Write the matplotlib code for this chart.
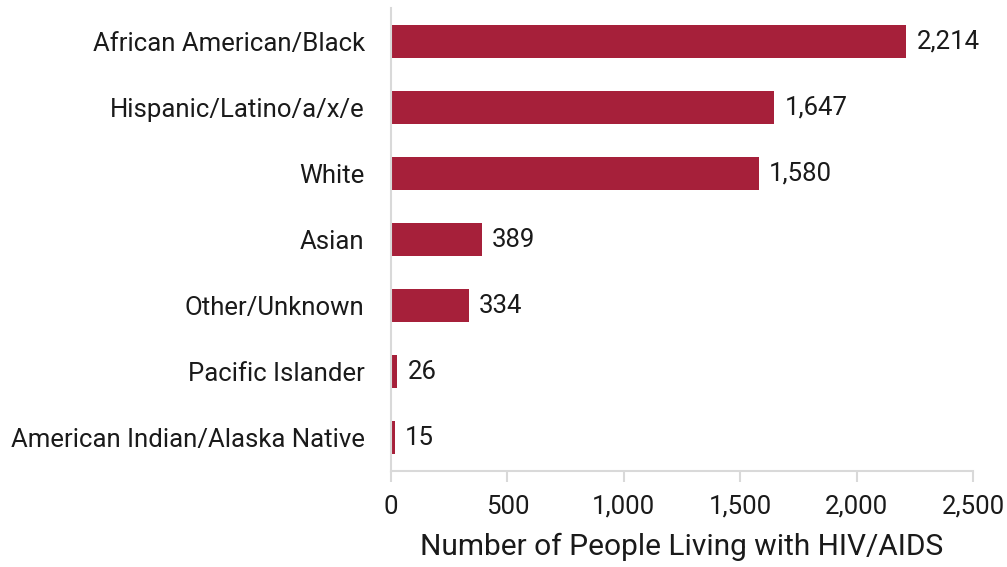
import matplotlib.pyplot as plt
from matplotlib.ticker import FuncFormatter

plt.rcParams['font.family'] = ['Roboto', 'DejaVu Sans']

# Data
groups = ['African American/Black', 'Hispanic/Latino/a/x/e', 'White', 'Asian',
          'Other/Unknown', 'Pacific Islander', 'American Indian/Alaska Native']
counts = [2214, 1647, 1580, 389, 334, 26, 15]
xticks = [0, 500, 1000, 1500, 2000, 2500]

bar_color = '#A6203A'
grid_gray = '#D9D9D9'
text_color = '#1a1a1a'

fig = plt.figure(figsize=(10.07, 5.67), dpi=100)
ax = fig.add_axes([0.3883, 0.1693, 0.5779, 0.8166])

y = list(range(len(groups)))
ax.barh(y, counts, height=0.5, color=bar_color)
ax.set_ylim(len(groups) - 0.5, -0.5)
ax.set_xlim(0, 2500)
ax.set_yticks(y)
ax.set_yticklabels(groups, fontsize=18.5, color=text_color)
ax.set_xticks(xticks)
ax.xaxis.set_major_formatter(FuncFormatter(lambda v, p: f'{int(v):,}'))
ax.tick_params(axis='x', labelsize=18.5, length=8, width=1.5, color=grid_gray,
               labelcolor=text_color, pad=9)
ax.tick_params(axis='y', length=0, pad=19)

for side in ['top', 'right']:
    ax.spines[side].set_visible(False)
for side in ['left', 'bottom']:
    ax.spines[side].set_color(grid_gray)
    ax.spines[side].set_linewidth(1.5)

for yi, v in zip(y, counts):
    ax.text(v + 45, yi, f'{v:,}', va='center', ha='left', fontsize=18.5, color=text_color)

ax.set_xlabel('Number of People Living with HIV/AIDS', fontsize=21.5, color=text_color, labelpad=10)

fig.savefig('out.png', dpi=100)
